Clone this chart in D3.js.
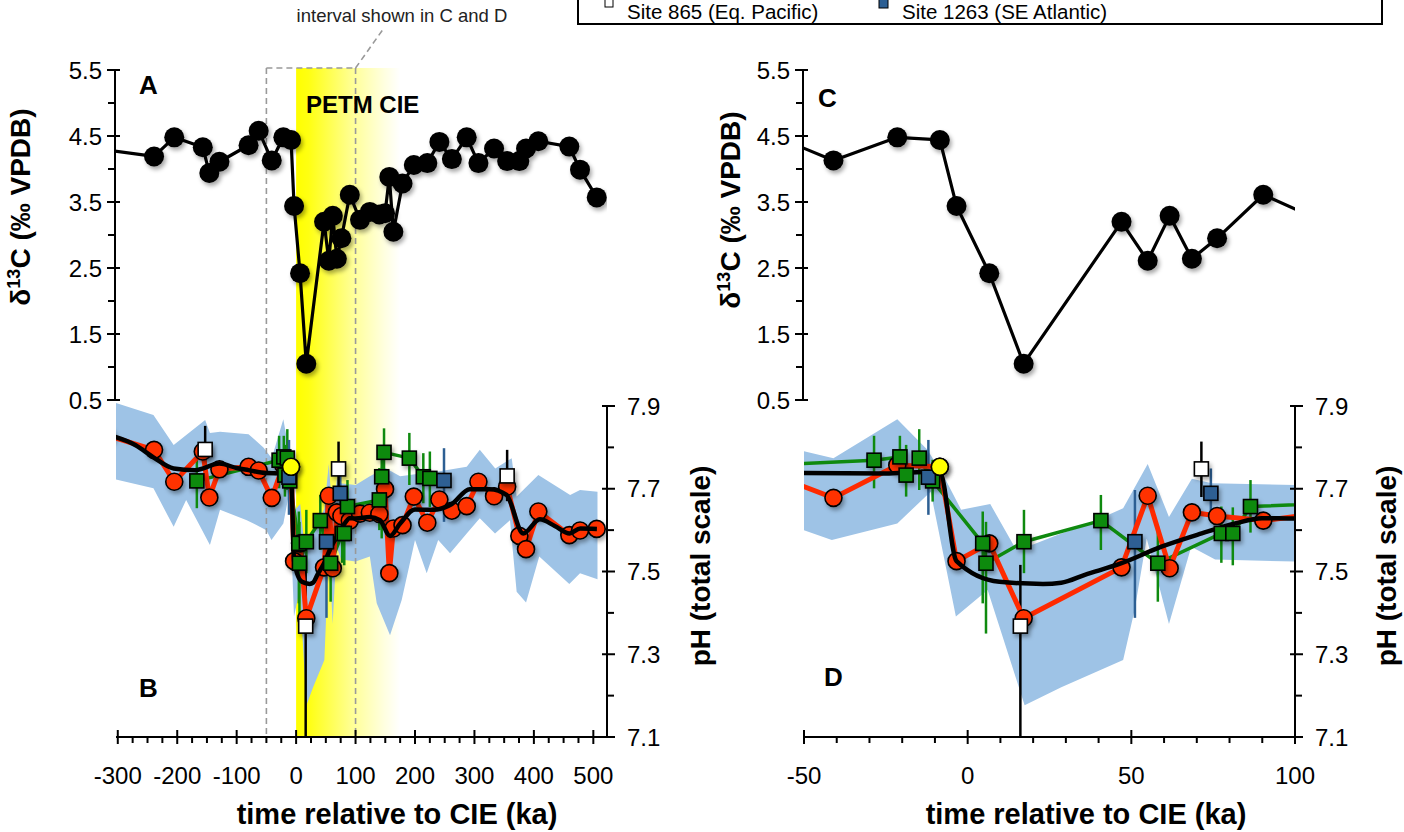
<!DOCTYPE html>
<html><head><meta charset="utf-8">
<script src="https://cdn.jsdelivr.net/npm/d3@7"></script>
<style>
body{margin:0;background:#fff}
svg{display:block}
text{font-family:"Liberation Sans",Arial,Helvetica,sans-serif;fill:#000}
</style>
</head><body>
<svg id="chart" width="1404" height="832"></svg>
<script>
// ---------------- DATA ----------------
// delta13C record: [time (ka), d13C (permil VPDB)]
const d13C = [
  [-320,4.29],[-239,4.19],[-205,4.48],[-157,4.33],[-146,3.94],[-129,4.11],[-80,4.36],[-63,4.58],
  [-41,4.13],[-21.5,4.48],[-8.5,4.44],[-3.4,3.44],[6.6,2.42],[17.1,1.05],[47,3.20],[55,2.61],
  [61.7,3.29],[68.5,2.64],[76.2,2.95],[90.3,3.61],[107.5,3.23],[124,3.35],[140,3.31],[149.6,3.33],
  [156.8,3.88],[163.6,3.05],[179,3.78],[198,4.06],[220.7,4.09],[241,4.41],[262,4.15],[287,4.48],
  [306.7,4.09],[333,4.31],[355,4.12],[375.5,4.12],[386.8,4.31],[407.5,4.42],[459.6,4.34],
  [477.6,3.99],[505.7,3.57]
];
// pH, main record (red circles): [time, pH]
const pHRed = [
  [-320,7.83],[-239,7.794],[-205,7.717],[-157,7.79],[-146,7.679],[-129,7.747],[-80,7.753],[-63,7.744],
  [-41,7.678],[-21.5,7.757],[-8.5,7.753],[-3.4,7.525],[6.6,7.568],[17.1,7.387],[47,7.51],[55,7.683],
  [61.7,7.508],[68.5,7.643],[76.2,7.634],[90.3,7.623],[107.5,7.64],[124,7.642],[140,7.639],[149.6,7.699],
  [156.8,7.496],[163.6,7.604],[179,7.612],[198,7.681],[220.7,7.618],[241,7.674],[262,7.647],[287,7.658],
  [306.7,7.717],[333,7.682],[355,7.705],[375.5,7.586],[386.8,7.554],[407.5,7.645],[459.6,7.588],
  [477.6,7.599],[505.7,7.603]
];
// highlighted point (yellow circle)
const pHYellow = [[-8.5,7.753]];
// smoothed curve (black line)
const pHSmooth = [
  [-320,7.832],[-270,7.805],[-240,7.776],[-206,7.749],[-170,7.745],[-129,7.761],[-100,7.75],[-80,7.745],
  [-50,7.738],[-24,7.737],[-11,7.741],[-8.5,7.74],[-3.4,7.525],[9.7,7.475],[23,7.47],[28.6,7.473],
  [35.8,7.492],[47,7.52],[59.2,7.56],[71.5,7.592],[81.7,7.616],[89.9,7.629],[100,7.628],[124,7.632],
  [141,7.624],[158,7.586],[175,7.616],[200,7.65],[231,7.649],[262,7.663],[292,7.699],[326,7.699],
  [354,7.685],[382,7.592],[410,7.626],[435,7.61],[460,7.592],[478,7.604],[506,7.603]
];
// green squares: [time, pH, low, high]
const pHGreen = [
  [-167,7.719,7.653,7.77],[-28.6,7.769,7.701,7.828],[-20.7,7.777,7.72,7.828],[-18.8,7.733,7.681,7.806],
  [-14.8,7.774,7.697,7.844],[-10.7,7.719,7.669,7.77],[4.6,7.568,7.423,7.645],[5.6,7.52,7.35,7.62],
  [17.2,7.572,7.496,7.649],[40.7,7.623,7.552,7.685],[58.1,7.52,7.427,7.61],[77.5,7.592,7.521,7.657],
  [81,7.592,7.515,7.655],[86.4,7.657,7.594,7.721],[140,7.673,7.60,7.75],[144,7.729,7.58,7.80],
  [147.9,7.788,7.72,7.846],[190.5,7.774,7.709,7.835],[214,7.729,7.665,7.786],[225,7.725,7.656,7.79]
];
// Site 1263 (SE Atlantic), blue squares: [time, pH, low, high]
const pHSite1263 = [
  [-12,7.728,7.637,7.818],[51.1,7.572,7.388,7.697],[74.3,7.689,7.629,7.749],[248.8,7.72,7.62,7.798]
];
// Site 865 (Eq. Pacific), white squares: [time, pH, low, high]
const pHSite865 = [
  [-153,7.795,7.74,7.852],[16.1,7.368,7.0,7.516],[71.4,7.748,7.68,7.814],[355,7.731,7.67,7.794]
];
// uncertainty envelope
const bandTop = [
  [-320,7.915],[-240,7.878],[-206,7.806],[-153,7.866],[-145,7.835],[-128,7.838],[-80,7.832],[-55,7.80],
  [-41,7.774],[-21.5,7.868],[-12.3,7.794],[-7.2,7.729],[-2,7.649],[6.9,7.663],[14.3,7.56],[20,7.565],
  [28.6,7.592],[34.8,7.608],[47.5,7.653],[55,7.76],[61.5,7.632],[68.5,7.724],[74.6,7.713],[100,7.709],
  [124,7.73],[150,7.75],[175,7.73],[200,7.735],[236.5,7.741],[287,7.753],[309,7.794],[335,7.749],
  [362.7,7.774],[371,7.681],[407.5,7.733],[461,7.685],[477.6,7.697],[507,7.693]
];
const bandBottom = [
  [-320,7.728],[-240,7.701],[-206,7.608],[-185,7.673],[-145,7.564],[-128,7.649],[-83,7.624],[-50,7.60],
  [-41.5,7.576],[-21.5,7.616],[-11.3,7.693],[-3.6,7.391],[6.1,7.455],[17.4,7.177],[28.6,7.22],
  [47.5,7.286],[51,7.407],[54.7,7.58],[61.5,7.373],[68.3,7.56],[75.6,7.529],[100,7.524],[124,7.536],
  [135.6,7.423],[158,7.346],[177.6,7.431],[200,7.576],[219.7,7.496],[239,7.576],[259,7.544],[287,7.592],
  [309,7.629],[334.6,7.592],[359.8,7.624],[371,7.451],[386.8,7.425],[409,7.536],[459.6,7.47],
  [477.6,7.496],[507,7.481]
];
// shaded PETM CIE interval and the interval shown in C and D
const petmInterval = [0, 175];
const zoomInterval = [-50, 100];
// ticks
const d13CMajor = [0.5,1.5,2.5,3.5,4.5,5.5];
const d13CMinor = [1,2,3,4,5];
const d13CLabels = ["0.5","1.5","2.5","3.5","4.5","5.5"];
const pHMajor = [7.1,7.3,7.5,7.7,7.9];
const pHMinor = [7.2,7.4,7.6,7.8];
const pHLabels = ["7.1","7.3","7.5","7.7","7.9"];
const timeMajorB = [-300,-200,-100,0,100,200,300,400,500];
const timeLabelsB = ["-300","-200","-100","0","100","200","300","400","500"];
const timeMinorB = d3.range(-275, 500, 25).filter(v => v % 100 !== 0);
const timeMajorD = [-50,0,50,100];
const timeLabelsD = ["-50","0","50","100"];
const timeMinorD = d3.range(-40, 100, 10).filter(v => v % 50 !== 0);
const legendEntries = ["Site 865 (Eq. Pacific)", "Site 1263 (SE Atlantic)"];

// ---------------- SCALES ----------------
const xA = d3.scaleLinear().domain([-303, 523]).range([116, 607]);
const xD = d3.scaleLinear().domain([-50, 100]).range([804, 1295]);
const yC13 = d3.scaleLinear().domain([0.5, 5.5]).range([400, 70]);
const ypH = d3.scaleLinear().domain([7.1, 7.9]).range([737, 406]);

const svg = d3.select("#chart");
const defs = svg.append("defs");
const grad = defs.append("linearGradient").attr("id","petm").attr("x1","0").attr("x2","1").attr("y1","0").attr("y2","0");
[[0,"#ffff00"],[0.12,"#ffff12"],[0.55,"#ffff98"],[0.85,"#ffffe0"],[1,"#ffffff"]]
  .forEach(s => grad.append("stop").attr("offset", s[0]).attr("stop-color", s[1]));
const filt = defs.append("filter").attr("id","sh").attr("x","-60%").attr("y","-60%").attr("width","220%").attr("height","220%");
filt.append("feDropShadow").attr("dx",2).attr("dy",3).attr("stdDeviation",2).attr("flood-color","#000").attr("flood-opacity",0.35);
function clip(id, x0, x1, y0, y1) {
  defs.append("clipPath").attr("id", id).append("rect").attr("x", x0).attr("y", y0).attr("width", x1 - x0).attr("height", y1 - y0);
}
clip("clipA", 115, 607, 40, 402);
clip("clipC", 803, 1295, 40, 402);
clip("clipB", 116, 607, 380, 737);
clip("clipD", 804, 1295, 380, 737);

// ---------------- AXES ----------------
function yAxis(x, scale, majors, minors, labels, side) {
  const g = svg.append("g").attr("stroke", "#000").attr("stroke-width", 2);
  const r = scale.range();
  g.append("line").attr("x1", x).attr("x2", x).attr("y1", r[0]).attr("y2", r[1]);
  const s = side === "left" ? -1 : 1;
  majors.forEach(v => g.append("line").attr("x1", x + s * 8).attr("x2", x - s * 5).attr("y1", scale(v)).attr("y2", scale(v)));
  minors.forEach(v => g.append("line").attr("x1", x).attr("x2", x + s * 7).attr("y1", scale(v)).attr("y2", scale(v)));
  majors.forEach((v, i) => svg.append("text")
    .attr("x", side === "left" ? x - 13 : x + 20).attr("y", scale(v) + 8.5)
    .attr("text-anchor", side === "left" ? "end" : "start")
    .attr("font-size", 24).text(labels[i]));
}
function xAxis(y, scale, majors, minors, labels) {
  const g = svg.append("g").attr("stroke", "#000").attr("stroke-width", 2);
  const r = scale.range();
  g.append("line").attr("x1", r[0]).attr("x2", r[1]).attr("y1", y).attr("y2", y);
  majors.forEach(v => g.append("line").attr("x1", scale(v)).attr("x2", scale(v)).attr("y1", y - 7).attr("y2", y + 7));
  minors.forEach(v => g.append("line").attr("x1", scale(v)).attr("x2", scale(v)).attr("y1", y).attr("y2", y + 6));
  majors.forEach((v, i) => svg.append("text").attr("x", scale(v)).attr("y", y + 47)
    .attr("text-anchor", "middle").attr("font-size", 24).text(labels[i]));
}

// ---------------- PETM shading (panels A/B) ----------------
svg.append("rect")
  .attr("x", xA(petmInterval[0])).attr("width", xA(petmInterval[1]) - xA(petmInterval[0]))
  .attr("y", 68).attr("height", 737 - 68).attr("fill", "url(#petm)");

// ---------------- pH panels ----------------
function drawBand(x, clipId) {
  const line = d3.line().x(d => x(d[0])).y(d => ypH(d[1]));
  svg.append("g").attr("clip-path", `url(#${clipId})`)
    .append("path").attr("d", line(bandTop.concat(bandBottom.slice().reverse())) + "Z")
    .attr("fill", "#9ec3e6");
}
function drawPH(x, clipId) {
  const g = svg.append("g").attr("clip-path", `url(#${clipId})`);
  const line = d3.line().x(d => x(d[0])).y(d => ypH(d[1]));
  const errs = (data, color) => g.append("g").selectAll("line").data(data).join("line")
    .attr("x1", d => x(d[0])).attr("x2", d => x(d[0]))
    .attr("y1", d => ypH(d[2])).attr("y2", d => ypH(d[3]))
    .attr("stroke", color).attr("stroke-width", 2.5);
  errs(pHGreen, "#0f8a0f");
  errs(pHSite1263, "#2d5f93");
  errs(pHSite865, "#000");
  g.append("path").attr("d", line(pHGreen)).attr("fill", "none").attr("stroke", "#0f8a0f").attr("stroke-width", 3.5).attr("stroke-linejoin", "round");
  g.append("path").attr("d", line(pHRed)).attr("fill", "none").attr("stroke", "#ff2a00").attr("stroke-width", 5).attr("stroke-linejoin", "round");
  const mk = g.append("g").attr("filter", "url(#sh)");
  mk.selectAll("circle.red").data(pHRed).join("circle").attr("class", "red")
    .attr("cx", d => x(d[0])).attr("cy", d => ypH(d[1])).attr("r", 8.5)
    .attr("fill", "#ff3300").attr("stroke", "#000").attr("stroke-width", 1.6);
  g.append("path").attr("d", d3.line().curve(d3.curveMonotoneX).x(d => x(d[0])).y(d => ypH(d[1]))(pHSmooth))
    .attr("fill", "none").attr("stroke", "#000").attr("stroke-width", 4.5).attr("stroke-linejoin", "round");
  const mk2 = g.append("g").attr("filter", "url(#sh)");
  const sq = (data, fill) => mk2.append("g").selectAll("rect").data(data).join("rect")
    .attr("x", d => x(d[0]) - 7).attr("y", d => ypH(d[1]) - 7).attr("width", 14).attr("height", 14)
    .attr("fill", fill).attr("stroke", "#000").attr("stroke-width", 1.6);
  sq(pHGreen, "#0f8a0f");
  sq(pHSite1263, "#2d5f93");
  sq(pHSite865, "#ffffff");
  mk2.selectAll("circle.yel").data(pHYellow).join("circle").attr("class", "yel")
    .attr("cx", d => x(d[0])).attr("cy", d => ypH(d[1])).attr("r", 8.5)
    .attr("fill", "#ffff00").attr("stroke", "#000").attr("stroke-width", 1.6);
}

// panel B
drawBand(xA, "clipB");
// dashed interval box
const dash = svg.append("g").attr("stroke", "#999").attr("stroke-width", 1.6).attr("stroke-dasharray", "6,4").attr("fill", "none");
dash.append("line").attr("x1", xA(zoomInterval[0])).attr("x2", xA(zoomInterval[0])).attr("y1", 68).attr("y2", 737);
dash.append("line").attr("x1", xA(zoomInterval[1])).attr("x2", xA(zoomInterval[1])).attr("y1", 68).attr("y2", 737);
dash.append("line").attr("x1", xA(zoomInterval[0])).attr("x2", xA(zoomInterval[1])).attr("y1", 68).attr("y2", 68);
dash.append("line").attr("x1", xA(zoomInterval[1])).attr("x2", xA(zoomInterval[1]) + 27).attr("y1", 68).attr("y2", 30);
svg.append("text").attr("x", 402).attr("y", 22).attr("text-anchor", "middle").attr("font-size", 18.5).style("fill", "#222").text("interval shown in C and D");

drawPH(xA, "clipB");
// panel D
drawBand(xD, "clipD");
drawPH(xD, "clipD");

// ---------------- d13C panels ----------------
function drawC13(x, clipId) {
  const dom = x.domain();
  const g = svg.append("g").attr("clip-path", `url(#${clipId})`);
  g.append("path").attr("d", d3.line().x(d => x(d[0])).y(d => yC13(d[1]))(d13C))
    .attr("fill", "none").attr("stroke", "#000").attr("stroke-width", 3.2).attr("stroke-linejoin", "round");
  g.append("g").attr("filter", "url(#sh)").selectAll("circle")
    .data(d13C.filter(d => d[0] >= dom[0] && d[0] <= dom[1])).join("circle")
    .attr("cx", d => x(d[0])).attr("cy", d => yC13(d[1])).attr("r", 10).attr("fill", "#000");
}
drawC13(xA, "clipA");
drawC13(xD, "clipC");

// axes
yAxis(115, yC13, d13CMajor, d13CMinor, d13CLabels, "left");
yAxis(803, yC13, d13CMajor, d13CMinor, d13CLabels, "left");
yAxis(607, ypH, pHMajor, pHMinor, pHLabels, "right");
yAxis(1295, ypH, pHMajor, pHMinor, pHLabels, "right");
xAxis(737, xA, timeMajorB, timeMinorB, timeLabelsB);
xAxis(737, xD, timeMajorD, timeMinorD, timeLabelsD);

// ---------------- labels ----------------
function title(x, y, rot, txt, sup, size) {
  const t = svg.append("text").attr("transform", `translate(${x},${y}) rotate(${rot})`)
    .attr("text-anchor", "middle").attr("font-size", size || 28).attr("font-weight", "bold");
  if (sup) {
    t.append("tspan").text("δ");
    t.append("tspan").attr("font-size", 18).attr("dy", -10).text("13");
    t.append("tspan").attr("dy", 10).text("C (‰ VPDB)");
  } else t.text(txt);
}
title(30, 207, -90, null, true);
title(740, 210, -90, null, true);
title(710, 566, -90, "pH (total scale)");
title(1396, 566, -90, "pH (total scale)");
title(397, 824, 0, "time relative to CIE (ka)", false, 29);
title(1086, 824, 0, "time relative to CIE (ka)", false, 29);

const letter = (x, y, s) => svg.append("text").attr("x", x).attr("y", y).attr("font-size", 26).attr("font-weight", "bold").text(s);
letter(139, 94, "A");
letter(139, 697, "B");
letter(818, 107, "C");
letter(824, 686, "D");
svg.append("text").attr("x", 306).attr("y", 113).attr("font-size", 24).attr("font-weight", "bold").text("PETM CIE");

// ---------------- legend (partly off the top edge) ----------------
const lg = svg.append("g");
lg.append("rect").attr("x", 578).attr("y", -30).attr("width", 804).attr("height", 54).attr("fill", "#fff").attr("stroke", "#000").attr("stroke-width", 2);
lg.append("rect").attr("x", 605).attr("y", -1).attr("width", 8).attr("height", 8).attr("fill", "#fff").attr("stroke", "#000").attr("stroke-width", 1);
lg.append("text").attr("x", 627).attr("y", 19).attr("font-size", 20.5).text(legendEntries[0]);
lg.append("rect").attr("x", 879).attr("y", -1).attr("width", 9).attr("height", 9).attr("fill", "#2d5f93").attr("stroke", "#000").attr("stroke-width", 1);
lg.append("text").attr("x", 902).attr("y", 19).attr("font-size", 20.5).text(legendEntries[1]);
</script>
</body></html>
